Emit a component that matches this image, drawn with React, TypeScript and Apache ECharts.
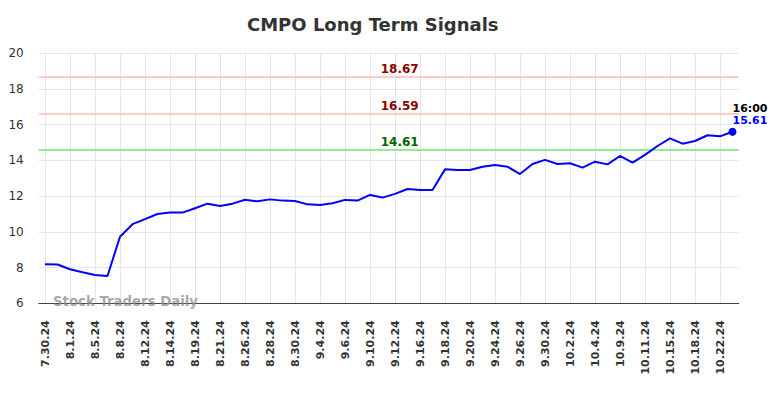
import React, { useEffect, useRef } from "react";
import * as echarts from "echarts";

const dates: string[] = [
  "7.30.24", "7.31.24", "8.1.24", "8.2.24", "8.5.24", "8.6.24", "8.8.24", "8.9.24",
  "8.12.24", "8.13.24", "8.14.24", "8.16.24", "8.19.24", "8.20.24", "8.21.24", "8.23.24",
  "8.26.24", "8.27.24", "8.28.24", "8.29.24", "8.30.24", "9.3.24", "9.4.24", "9.5.24",
  "9.6.24", "9.9.24", "9.10.24", "9.11.24", "9.12.24", "9.13.24", "9.16.24", "9.17.24",
  "9.18.24", "9.19.24", "9.20.24", "9.23.24", "9.24.24", "9.25.24", "9.26.24", "9.27.24",
  "9.30.24", "10.1.24", "10.2.24", "10.3.24", "10.4.24", "10.7.24", "10.9.24", "10.10.24",
  "10.11.24", "10.14.24", "10.15.24", "10.17.24", "10.18.24", "10.21.24", "10.22.24", "10.23.24",
];

const prices: number[] = [
  8.19, 8.17, 7.91, 7.74, 7.59, 7.53, 9.73, 10.43,
  10.71, 11.0, 11.08, 11.08, 11.32, 11.58, 11.45, 11.58,
  11.8, 11.71, 11.82, 11.75, 11.73, 11.54, 11.51, 11.6,
  11.79, 11.75, 12.07, 11.92, 12.13, 12.4, 12.35, 12.35,
  13.5, 13.47, 13.47, 13.65, 13.75, 13.65, 13.24, 13.8,
  14.03, 13.8, 13.84, 13.6, 13.93, 13.78, 14.25, 13.88,
  14.31, 14.81, 15.24, 14.94, 15.09, 15.41, 15.35, 15.61,
];

const levelValues: number[] = [18.67, 16.59, 14.61];
const levelLineColors: string[] = ["#ffcccc", "#ffcccc", "#90ee90"];
const levelTextColors: string[] = ["#8b0000", "#8b0000", "#006400"];

const yTicks = { min: 6, max: 20, interval: 2 };
const lastTimeLabel = "16:00";
const titleText = "CMPO Long Term Signals";
const watermark = "Stock Traders Daily";

const FONT = "'DejaVu Sans', sans-serif";

export default function App() {
  const ref = useRef<HTMLDivElement>(null);

  useEffect(() => {
    if (!ref.current) return;
    const chart = echarts.init(ref.current, undefined, { renderer: "svg" });
    const lastIdx = prices.length - 1;

    const option: any = {
      animation: false,
      backgroundColor: "#ffffff",
      textStyle: { fontFamily: FONT },
      title: {
        text: titleText,
        left: 247,
        top: 15,
        padding: 0,
        textStyle: { fontFamily: FONT, fontSize: 18, fontWeight: "bold", color: "#333333" },
      },
      grid: { left: 38.75, width: 700, top: 53.3, height: 250, containLabel: false },
      xAxis: {
        type: "category",
        data: dates,
        boundaryGap: true,
        axisLine: { show: true, lineStyle: { color: "#444444", width: 1 } },
        axisTick: { show: false },
        axisLabel: {
          interval: 1,
          rotate: 90,
          fontFamily: FONT,
          fontSize: 11,
          fontWeight: "bold",
          color: "#333333",
          margin: 17,
        },
        splitLine: {
          show: true,
          interval: 1,
          alignWithLabel: true,
          lineStyle: { color: "#e6e6e6", width: 1 },
        },
      },
      yAxis: {
        type: "value",
        min: yTicks.min,
        max: yTicks.max,
        interval: yTicks.interval,
        axisLine: { show: false },
        axisTick: { show: false },
        axisLabel: { fontFamily: FONT, fontSize: 12, color: "#333333", margin: 15 },
        splitLine: { show: true, lineStyle: { color: "#e6e6e6", width: 1 } },
      },
      graphic: [
        {
          type: "text",
          left: 53,
          top: 295,
          z: 10,
          style: {
            text: watermark,
            fontFamily: FONT,
            fontSize: 13.3,
            fontWeight: "bold",
            fill: "rgba(140,140,140,0.75)",
          },
        },
      ],
      series: [
        {
          type: "line",
          data: prices,
          symbol: "none",
          lineStyle: { color: "#0000ff", width: 2 },
          itemStyle: { color: "#0000ff" },
          z: 5,
          markLine: {
            silent: true,
            symbol: ["none", "none"],
            z: 2,
            data: levelValues.map((v, i) => ({
              yAxis: v,
              lineStyle: { color: levelLineColors[i], width: 2, type: "solid" },
              label: {
                show: true,
                position: "insideMiddleTop",
                distance: 2,
                padding: [0, 0, 0, 22],
                formatter: v.toFixed(2),
                fontFamily: FONT,
                fontSize: 12,
                fontWeight: "bold",
                color: levelTextColors[i],
              },
            })),
          },
          markPoint: {
            silent: true,
            symbol: "circle",
            symbolSize: 8,
            itemStyle: { color: "#0000ff" },
            data: [
              {
                coord: [dates[lastIdx], prices[lastIdx]],
                label: {
                  show: true,
                  position: [4, -25.5],
                  align: "left",
                  verticalAlign: "top",
                  formatter: `{a|${lastTimeLabel}}\n{b|${prices[lastIdx].toFixed(2)}}`,
                  rich: {
                    a: { fontFamily: FONT, fontSize: 11, fontWeight: "bold", color: "#000000", lineHeight: 12.5 },
                    b: { fontFamily: FONT, fontSize: 11, fontWeight: "bold", color: "#0000ff", lineHeight: 12.5 },
                  },
                },
              },
            ],
          },
        },
      ],
    };

    chart.setOption(option);
    return () => chart.dispose();
  }, []);

  return (
    <div
      ref={ref}
      style={{ position: "fixed", left: 0, top: 0, width: 784, height: 398 }}
    />
  );
}
